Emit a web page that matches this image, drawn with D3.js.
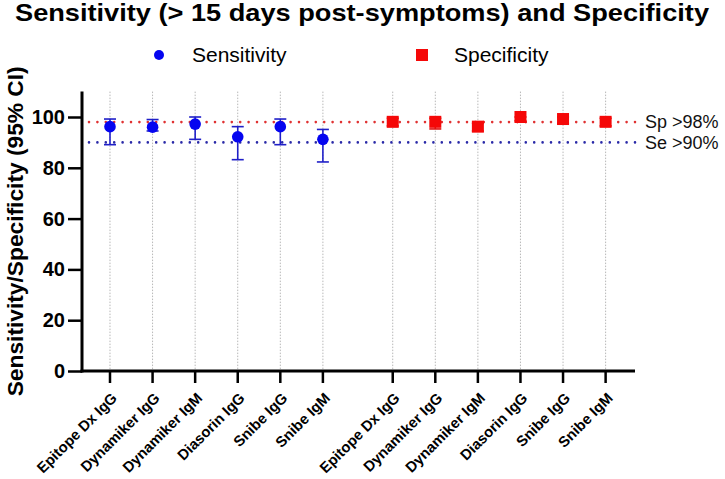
<!DOCTYPE html>
<html><head><meta charset="utf-8">
<script src="https://cdn.jsdelivr.net/npm/d3@7"></script>
<style>body{margin:0;background:#fff}svg{display:block}text{font-family:"Liberation Sans",Arial,sans-serif}</style>
</head><body>
<svg id="c" width="725" height="479"></svg>
<script>
const categories = ["Epitope Dx IgG","Dynamiker IgG","Dynamiker IgM","Diasorin IgG","Snibe IgG","Snibe IgM"];
const sensitivity = [96.2, 96.0, 97.2, 92.2, 96.2, 91.2];
const sensLow  = [89.1, 94.5, 91.2, 83.2, 89.1, 82.3];
const sensHigh = [99.2, 99.0, 100.0, 96.2, 99.2, 95.1];
const specificity = [98.1, 98.1, 96.2, 100.0, 99.2, 98.1];
const specLow  = [96.5, 95.3, 94.5, 98.5, 97.5, 96.5];
const specHigh = [99.5, 99.5, 97.5, 100.0, 100.0, 99.5];
const yTicks = [0, 20, 40, 60, 80, 100];
const thresholds = [{label:"Sp >98%", value:98, color:"#e03232"},{label:"Se >90%", value:90, color:"#2a2aa8"}];

const svg = d3.select("#c");
const groupGap = 6.64;
const x = d3.scaleLinear().domain([-0.634, 5 + groupGap + 0.69]).range([83, 635]);
const y = d3.scaleLinear().domain([0, 110]).range([371, 91.6]);

const slots = [];
categories.forEach((c,i)=>slots.push({c, p:i, g:0}));
categories.forEach((c,i)=>slots.push({c, p:i+groupGap, g:1}));

// vertical grid
svg.append("g").selectAll("line").data(slots).join("line")
  .attr("x1",d=>x(d.p)).attr("x2",d=>x(d.p)).attr("y1",y(110)).attr("y2",y(0))
  .attr("stroke","#b8b8b8").attr("stroke-width",1).attr("stroke-dasharray","1.5,1.5");

// threshold lines
svg.append("g").selectAll("line").data(thresholds).join("line")
  .attr("x1",x.range()[0]+6).attr("x2",x.range()[1]).attr("y1",d=>y(d.value)).attr("y2",d=>y(d.value))
  .attr("stroke",d=>d.color).attr("stroke-width",2.6).attr("stroke-linecap","round").attr("stroke-dasharray","0,8.4");
svg.append("g").selectAll("text").data(thresholds).join("text")
  .attr("x",645).attr("y",d=>y(d.value)).attr("dy","0.35em")
  .attr("font-size",18).attr("fill","#111").text(d=>d.label);

// axes
const yAxis = svg.append("g").attr("transform","translate(82,0)")
  .call(d3.axisLeft(y).tickValues(yTicks).tickSize(14).tickPadding(3));
yAxis.select(".domain").attr("stroke-width",3).attr("d",`M0,${y(110)}V${y(0)+1.5}`);
yAxis.selectAll(".tick line").attr("stroke-width",2.5);
yAxis.selectAll(".tick text").attr("font-size",20).attr("font-weight","bold").attr("fill","#000");

const xAxis = svg.append("g").attr("transform","translate(0,371)");
xAxis.append("line").attr("x1",80.5).attr("x2",x.range()[1]).attr("stroke","#000").attr("stroke-width",3);
xAxis.selectAll("line.t").data(slots).join("line").attr("class","t")
  .attr("x1",d=>x(d.p)).attr("x2",d=>x(d.p)).attr("y1",0).attr("y2",12)
  .attr("stroke","#000").attr("stroke-width",2.5);
xAxis.selectAll("text").data(slots).join("text")
  .attr("transform",d=>`translate(${x(d.p)+8},${28}) rotate(-45)`)
  .attr("text-anchor","end")
  .attr("font-size",14.8).attr("font-weight","bold").attr("fill","#000").text(d=>d.c);

// y label
svg.append("text").attr("transform",`translate(23,${y(55)}) rotate(-90)`)
  .attr("text-anchor","middle")
  .attr("font-size",21.5).attr("font-weight","bold")
  .attr("textLength",330).attr("lengthAdjust","spacingAndGlyphs")
  .text("Sensitivity/Specificity (95% CI)");

// error bars & points
const sens = categories.map((c,i)=>({p:i, v:sensitivity[i], lo:sensLow[i], hi:sensHigh[i]}));
const spec = categories.map((c,i)=>({p:i+groupGap, v:specificity[i], lo:specLow[i], hi:specHigh[i]}));
function errBars(data, color){
  const g = svg.append("g").attr("stroke",color).attr("stroke-width",1.6);
  g.selectAll("line.v").data(data).join("line").attr("class","v")
    .attr("x1",d=>x(d.p)).attr("x2",d=>x(d.p)).attr("y1",d=>y(d.lo)).attr("y2",d=>y(d.hi));
  g.selectAll("line.lo").data(data).join("line").attr("class","lo")
    .attr("x1",d=>x(d.p)-6).attr("x2",d=>x(d.p)+6).attr("y1",d=>y(d.lo)).attr("y2",d=>y(d.lo));
  g.selectAll("line.hi").data(data).join("line").attr("class","hi")
    .attr("x1",d=>x(d.p)-6).attr("x2",d=>x(d.p)+6).attr("y1",d=>y(d.hi)).attr("y2",d=>y(d.hi));
}
errBars(sens, "#1f1fc8");
errBars(spec, "#e01010");
svg.append("g").selectAll("circle").data(sens).join("circle")
  .attr("cx",d=>x(d.p)).attr("cy",d=>y(d.v)).attr("r",5.8).attr("fill","#0505f0");
svg.append("g").selectAll("rect").data(spec).join("rect")
  .attr("x",d=>x(d.p)-6).attr("y",d=>y(d.v)-6).attr("width",12).attr("height",12).attr("fill","#f50808");

// title
svg.append("text").attr("x",362).attr("y",21).attr("text-anchor","middle")
  .attr("font-size",24).attr("font-weight","bold").attr("textLength",694).attr("lengthAdjust","spacingAndGlyphs")
  .text("Sensitivity (> 15 days post-symptoms) and Specificity");

// legend
const leg = svg.append("g");
leg.append("circle").attr("cx",159).attr("cy",55).attr("r",5).attr("fill","#0505f0");
leg.append("text").attr("x",192).attr("y",55).attr("dy","0.35em").attr("font-size",21).text("Sensitivity");
leg.append("rect").attr("x",416).attr("y",49).attr("width",12).attr("height",12).attr("fill","#f50808");
leg.append("text").attr("x",454).attr("y",55).attr("dy","0.35em").attr("font-size",21).text("Specificity");
</script>
</body></html>
